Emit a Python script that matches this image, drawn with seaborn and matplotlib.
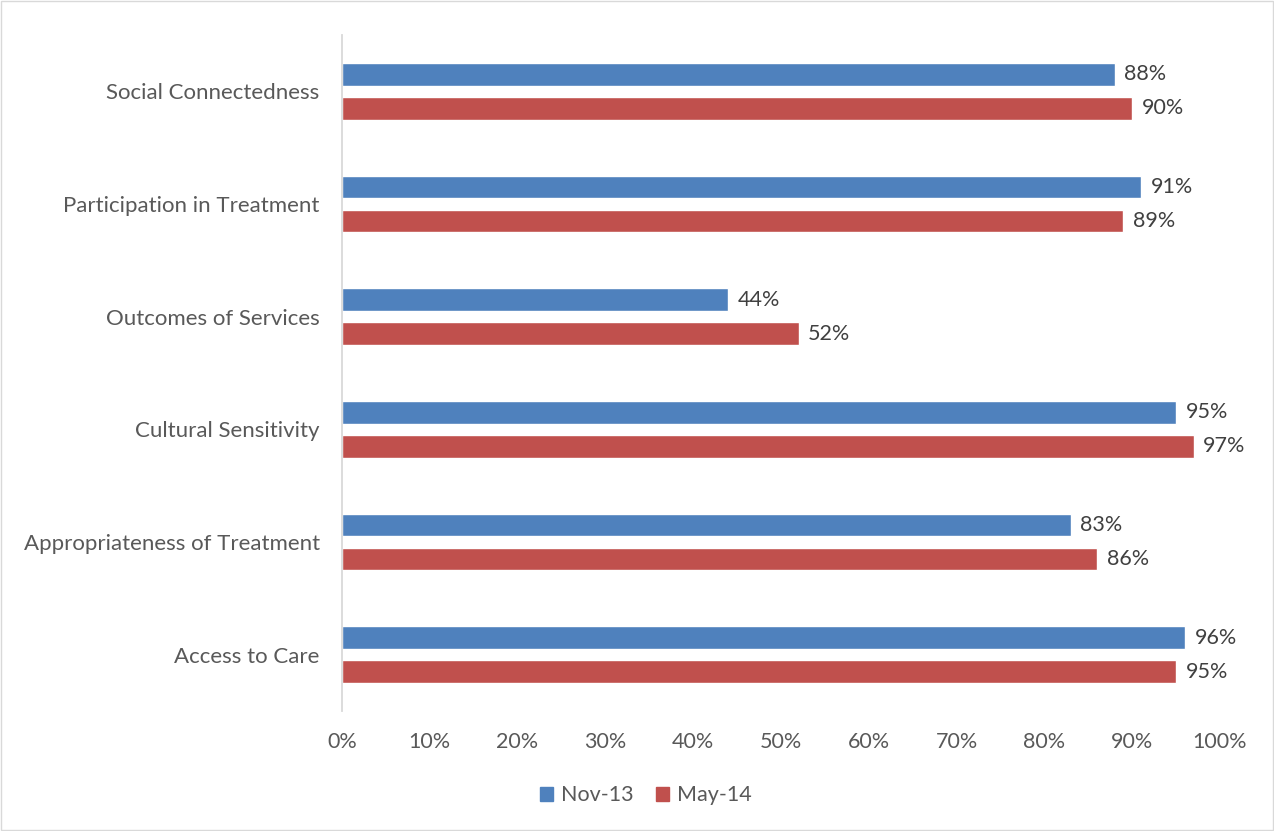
import matplotlib
matplotlib.use("Agg")
import matplotlib.pyplot as plt
import seaborn as sns
import pandas as pd
from matplotlib.patches import Rectangle
from matplotlib.ticker import PercentFormatter, MultipleLocator, FixedLocator

categories = ["Social Connectedness", "Participation in Treatment", "Outcomes of Services",
              "Cultural Sensitivity", "Appropriateness of Treatment", "Access to Care"]
nov13 = [88, 91, 44, 95, 83, 96]
may14 = [90, 89, 52, 97, 86, 95]
series = ["Nov-13", "May-14"]
colors = ["#4F81BD", "#C0504D"]

df = pd.DataFrame({
    "Category": categories * 2,
    "Value": nov13 + may14,
    "Series": [series[0]] * len(categories) + [series[1]] * len(categories),
})

sns.set_style("white")
plt.rcParams["font.family"] = ["Lato", "DejaVu Sans"]

fig = plt.figure(figsize=(12.74, 8.31), dpi=100)
ax = fig.add_axes([0.2684, 0.1444, 0.6892, 0.8135])

sns.barplot(data=df, y="Category", x="Value", hue="Series", order=categories,
            hue_order=series, palette=colors, orient="h", width=0.6, gap=0.33,
            ax=ax, legend=False, saturation=1)

text_col = "#595959"
for cont in ax.containers:
    ax.bar_label(cont, labels=[f"{v:.0f}%" for v in cont.datavalues], padding=7,
                 fontsize=15.5, color="#404040")

ax.set_xlim(0, 100)
ax.set_ylim(len(categories) - 0.5, -0.5)
ax.xaxis.set_major_locator(MultipleLocator(10))
ax.xaxis.set_major_formatter(PercentFormatter(decimals=0))
ax.set_xlabel("")
ax.set_ylabel("")
ax.tick_params(axis="x", length=0, labelsize=15.5, labelcolor=text_col, pad=15)
ax.tick_params(axis="y", which="major", length=0, labelsize=16, labelcolor=text_col, pad=16)
ax.yaxis.set_minor_locator(FixedLocator([i - 0.5 for i in range(len(categories) + 1)]))
ax.tick_params(axis="y", which="minor", length=7, color="#D9D9D9", width=1.3)
for s in ["top", "right", "bottom"]:
    ax.spines[s].set_visible(False)
ax.spines["left"].set_color("#D9D9D9")
ax.spines["left"].set_linewidth(1.3)
ax.grid(False)

handles = [Rectangle((0, 0), 1, 1, color=c) for c in colors]
fig.legend(handles, series, loc="center", bbox_to_anchor=(0.507, 0.043), ncol=2,
           frameon=False, fontsize=15.5, labelcolor=text_col, handlelength=0.6,
           handleheight=0.6, handletextpad=0.4, columnspacing=1.0)

fig.patches.append(Rectangle((0.001, 0.001), 0.998, 0.998, transform=fig.transFigure,
                             fill=False, edgecolor="#D9D9D9", linewidth=1))

fig.savefig("out.png", dpi=100, facecolor="white")
